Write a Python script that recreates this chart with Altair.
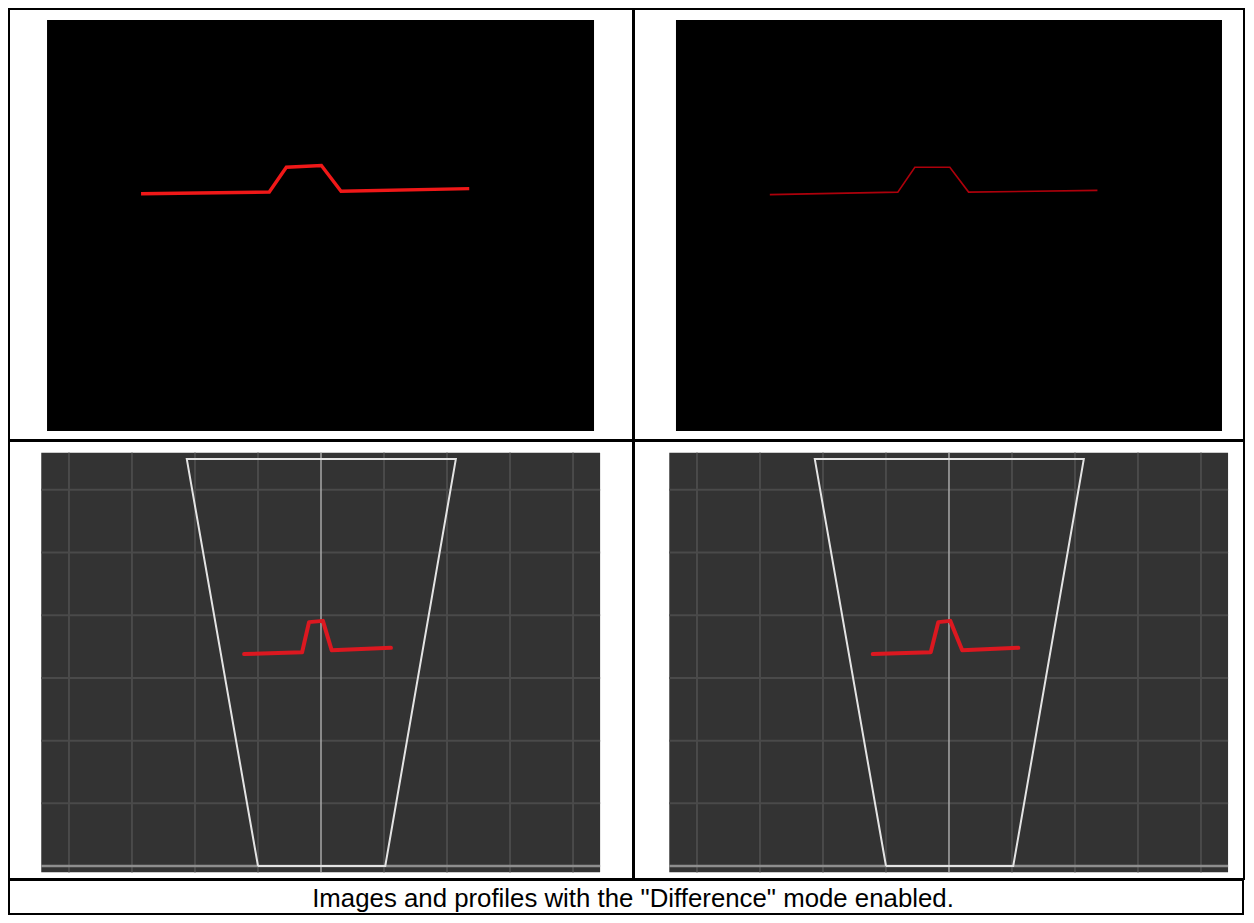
import altair as alt
import pandas as pd

# ---------------- data ----------------
# Top row: camera frames (640 x 480 px), laser profile in image pixel coordinates
img_w = 640
img_h = 480
tl_x = [110, 260, 280, 321, 344, 494]
tl_y = [203, 201, 172, 170, 200, 197]
tr_x = [110, 260, 280, 321, 343, 494]
tr_y = [204, 201, 172, 172, 201, 199]

# Bottom row: profile view, in grid units of the measuring field
bl_x = [-1.22, -0.30, -0.19, 0.03, 0.17, 1.11]
bl_y = [3.38, 3.41, 3.89, 3.91, 3.44, 3.48]
br_x = [-1.21, -0.29, -0.17, 0.02, 0.21, 1.10]
br_y = [3.38, 3.41, 3.89, 3.91, 3.44, 3.48]
frustum_x = [-1.0, -2.13, 2.14, 1.02, -1.0]
frustum_y = [0.0, 6.49, 6.49, 0.0, 0.0]
grid_x = [-4, -3, -2, -1, 1, 2, 3, 4]
grid_y = [1, 2, 3, 4, 5, 6]
field_x = [-4.44, 4.43]
field_y = [-0.10, 6.59]

caption = 'Images and profiles with the "Difference" mode enabled.'


# ---------------- panels ----------------
def image_panel(xs, ys, width, height, xdom, ydom, color, sw, opacity):
    sx = alt.Scale(domain=xdom, nice=False, zero=False)
    sy = alt.Scale(domain=ydom, nice=False, zero=False, reverse=True)
    bg = alt.Chart(pd.DataFrame({"x0": [0], "x1": [img_w], "y0": [0], "y1": [img_h]})).mark_rect(
        color="black"
    ).encode(
        x=alt.X("x0:Q", scale=sx, axis=None),
        x2="x1:Q",
        y=alt.Y("y0:Q", scale=sy, axis=None),
        y2="y1:Q",
    )
    df = pd.DataFrame({"x": xs, "y": ys, "i": list(range(len(xs)))})
    line = alt.Chart(df).mark_line(color=color, strokeWidth=sw, opacity=opacity).encode(
        x=alt.X("x:Q", scale=sx, axis=None),
        y=alt.Y("y:Q", scale=sy, axis=None),
        order="i:Q",
    )
    return alt.layer(bg, line).properties(width=width, height=height)


def profile_panel(xs, ys, width, height, xdom, ydom):
    sx = alt.Scale(domain=xdom, nice=False, zero=False)
    sy = alt.Scale(domain=ydom, nice=False, zero=False)
    X = lambda f: alt.X(f, scale=sx, axis=None)
    Y = lambda f: alt.Y(f, scale=sy, axis=None)
    bg = alt.Chart(
        pd.DataFrame({"x0": [field_x[0]], "x1": [field_x[1]], "y0": [field_y[0]], "y1": [field_y[1]]})
    ).mark_rect(color="#333333").encode(x=X("x0:Q"), x2="x1:Q", y=Y("y0:Q"), y2="y1:Q")
    vgrid = alt.Chart(
        pd.DataFrame({"x": grid_x, "y0": field_y[0], "y1": field_y[1]})
    ).mark_rule(color="#4a4a4a", strokeWidth=2).encode(x=X("x:Q"), y=Y("y0:Q"), y2="y1:Q")
    hgrid = alt.Chart(
        pd.DataFrame({"y": grid_y, "x0": field_x[0], "x1": field_x[1]})
    ).mark_rule(color="#4a4a4a", strokeWidth=2).encode(y=Y("y:Q"), x=X("x0:Q"), x2="x1:Q")
    base_h = alt.Chart(
        pd.DataFrame({"y": [0], "x0": [field_x[0]], "x1": [field_x[1]]})
    ).mark_rule(color="#8e8e8e", strokeWidth=2.5).encode(y=Y("y:Q"), x=X("x0:Q"), x2="x1:Q")
    base_v = alt.Chart(
        pd.DataFrame({"x": [0], "y0": [field_y[0]], "y1": [field_y[1]]})
    ).mark_rule(color="#a8a8a8", strokeWidth=1.5).encode(x=X("x:Q"), y=Y("y0:Q"), y2="y1:Q")
    fr = alt.Chart(
        pd.DataFrame({"x": frustum_x, "y": frustum_y, "i": list(range(len(frustum_x)))})
    ).mark_line(color="#e4e4e4", strokeWidth=2).encode(x=X("x:Q"), y=Y("y:Q"), order="i:Q")
    prof = alt.Chart(
        pd.DataFrame({"x": xs, "y": ys, "i": list(range(len(xs)))})
    ).mark_line(color="#dc1820", strokeWidth=4, strokeJoin="round", strokeCap="round").encode(
        x=X("x:Q"), y=Y("y:Q"), order="i:Q"
    )
    return alt.layer(bg, vgrid, hgrid, base_h, base_v, fr, prof).properties(width=width, height=height)


tl = image_panel(tl_x, tl_y, 624, 431, [-44.5, 685.6], [-12.8, 490.5], "#f01818", 3.4, 1)
tr = image_panel(tr_x, tr_y, 610, 431, [-49.2, 665.8], [-12.8, 490.5], "#c0000c", 1.6, 0.9)
bl = profile_panel(bl_x, bl_y, 624, 438, [-4.952, 4.952], [-0.207, 6.779])
br = profile_panel(br_x, br_y, 610, 438, [-5.0, 4.683], [-0.207, 6.779])

cap = alt.Chart(pd.DataFrame({"t": [caption]})).mark_text(
    font="Liberation Sans", fontSize=25.8, color="black", dx=7, dy=2
).encode(text="t:N").properties(
    width=1234, height=34, view=alt.ViewBackground(stroke="black", strokeWidth=2)
)

chart = alt.vconcat(
    alt.hconcat(tl, tr, spacing=-4),
    alt.hconcat(bl, br, spacing=-4),
    cap,
    spacing=-4,
).properties(padding=0).configure_view(stroke="black", strokeWidth=2)

chart.save("out.html", embed_options={"renderer": "svg", "actions": False})
